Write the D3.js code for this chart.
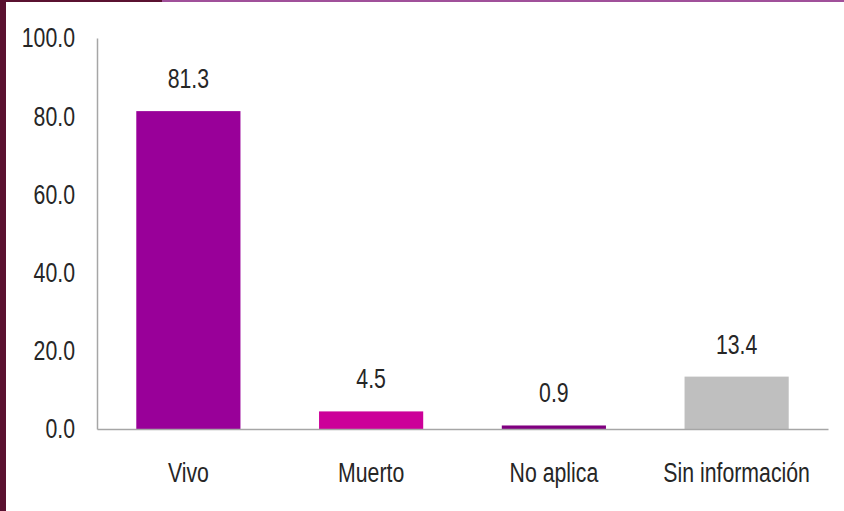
<!DOCTYPE html>
<html><head><meta charset="utf-8">
<script src="https://cdn.jsdelivr.net/npm/d3@7"></script>
<style>
html,body{margin:0;padding:0;background:#fff;}
svg{display:block;}
text{font-family:"Liberation Sans",Arial,sans-serif;fill:#262626;}
</style></head>
<body>
<script>
const categories = ["Vivo","Muerto","No aplica","Sin información"];
const values = [81.3, 4.5, 0.9, 13.4];
const valueLabels = ["81.3","4.5","0.9","13.4"];
const barColors = ["#990099","#cc0099","#800080","#bfbfbf"];
const yTicks = [0,20,40,60,80,100];

const W = 844, H = 511;
const m = {left:97, right:16, top:38, bottom:82};
const FS = 28, SX = 0.76;
const svg = d3.select("body").append("svg").attr("width",W).attr("height",H);

// frame decorations
svg.append("rect").attr("x",0).attr("y",0).attr("width",6).attr("height",H).attr("fill","#5a1130");
svg.append("rect").attr("x",0).attr("y",0).attr("width",162).attr("height",2).attr("fill","#5a1130");
svg.append("rect").attr("x",162).attr("y",0).attr("width",W-162).attr("height",2).attr("fill","#a0509a");

const x = d3.scaleBand().domain(categories).range([m.left, W-m.right]).paddingInner(0.43).paddingOuter(0.215);
const y = d3.scaleLinear().domain([0,100]).range([H-m.bottom, m.top]);

// bars
svg.selectAll(".bar").data(categories).enter().append("rect")
  .attr("x",d=>x(d)).attr("width",x.bandwidth())
  .attr("y",(d,i)=>y(values[i])).attr("height",(d,i)=>y(0)-y(values[i]))
  .attr("fill",(d,i)=>barColors[i]);

// value labels
svg.selectAll(".vl").data(categories).enter().append("g")
  .attr("transform",(d,i)=>`translate(${x(d)+x.bandwidth()/2},${y(values[i])-23}) scale(${SX},1)`)
  .append("text").attr("text-anchor","middle").attr("font-size",FS).text((d,i)=>valueLabels[i]);

// y axis
const ya = svg.append("g").attr("transform",`translate(${m.left},0)`)
  .call(d3.axisLeft(y).tickValues(yTicks).tickFormat(d3.format(".1f")).tickSize(0).tickPadding(22));
ya.select(".domain").attr("stroke","#a6a6a6").attr("stroke-width",1.5);
ya.selectAll("text").attr("font-size",FS).attr("font-family",null).attr("fill","#262626")
  .attr("x",-22/SX).attr("transform",`scale(${SX},1)`);

// x axis
const xa = svg.append("g").attr("transform",`translate(0,${y(0)})`)
  .call(d3.axisBottom(x).tickSize(0).tickPadding(33));
xa.select(".domain").attr("stroke","#a6a6a6").attr("stroke-width",1.5);
xa.selectAll("text").attr("font-size",FS).attr("font-family",null).attr("fill","#262626")
  .attr("transform",`scale(${SX},1)`);
</script>
</body></html>
